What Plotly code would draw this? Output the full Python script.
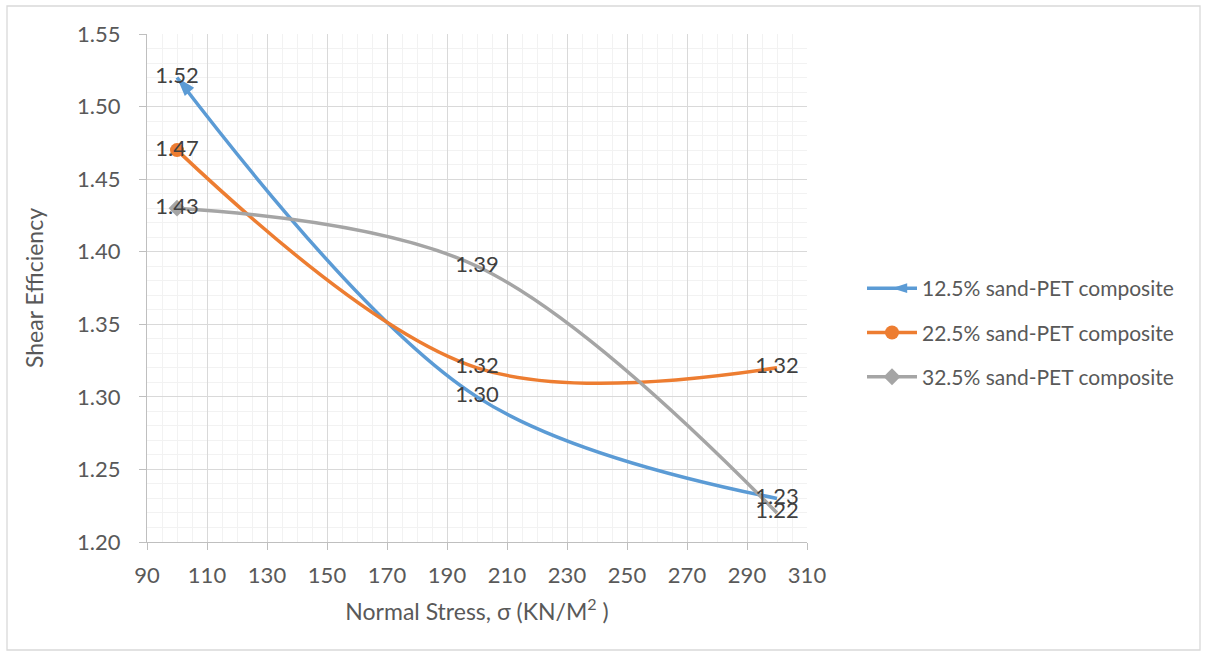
import plotly.graph_objects as go

# Normal stress (kN/m^2) and shear efficiency for each composite mix
stress = [100, 200, 300]
eff_125 = [1.52, 1.30, 1.23]
eff_225 = [1.47, 1.32, 1.32]
eff_325 = [1.43, 1.39, 1.22]
series_names = ["12.5% sand-PET composite", "22.5% sand-PET composite", "32.5% sand-PET composite"]

colors = ["#5B9BD5", "#ED7D31", "#A5A5A5"]
FONT = "Lato, Carlito, 'Open Sans', sans-serif"
TXT = "#595959"

fig = go.Figure()

series = [eff_125, eff_225, eff_325]
# marker on the first point of each curve (arrow head / circle / diamond)
first_marker = [dict(symbol="arrow", size=20, angle=-41),
                dict(symbol="circle", size=14, angle=0),
                dict(symbol="diamond", size=13, angle=0)]
legend_marker = [dict(symbol="arrow", size=16, angle=-90),
                 dict(symbol="circle", size=14, angle=0),
                 dict(symbol="diamond", size=13, angle=0)]

for i, (vals, name, col, fm, lm) in enumerate(zip(series, series_names, colors, first_marker, legend_marker)):
    fig.add_trace(go.Scatter(
        x=stress, y=vals, mode="lines", showlegend=False,
        line=dict(color=col, width=3.5, shape="spline", smoothing=1.0),
        hoverinfo="skip"))
    fig.add_trace(go.Scatter(
        x=stress[:1], y=vals[:1], mode="markers", showlegend=False,
        marker=dict(color=col, line=dict(width=0), **fm)))
    fig.add_trace(go.Scatter(
        x=[None], y=[None], mode="lines+markers", name=name, legendgroup=f"g{i}",
        line=dict(color=col, width=3.5),
        marker=dict(color=col, line=dict(width=0), **lm)))

# value labels centred on each point
for vals in series:
    fig.add_trace(go.Scatter(
        x=stress, y=vals, mode="text", showlegend=False,
        text=[f"{v:.2f}" for v in vals], textposition="middle center",
        textfont=dict(family=FONT, size=22, color="#404040"), hoverinfo="skip"))

axis_common = dict(
    showline=True, linecolor="#BFBFBF", linewidth=1.3,
    ticks="outside", tickcolor="#BFBFBF", ticklen=7, tickwidth=1.3,
    gridcolor="#D9D9D9", gridwidth=1.3, zeroline=False,
    tickfont=dict(family=FONT, size=22, color=TXT),
)

fig.update_xaxes(
    range=[90, 310], tick0=90, dtick=20, **axis_common, ticklabelstandoff=6,
    minor=dict(dtick=5, showgrid=True, gridcolor="#F2F2F2", gridwidth=1.3, ticks=""),
    title=dict(text="Normal Stress, σ (KN/M<sup>2</sup> )", font=dict(family=FONT, size=23, color=TXT), standoff=17),
)
fig.update_yaxes(
    range=[1.20, 1.55], tick0=1.20, dtick=0.05, tickformat=".2f", **axis_common, ticklabelstandoff=14,
    minor=dict(dtick=0.01, showgrid=True, gridcolor="#F2F2F2", gridwidth=1.3, ticks=""),
    title=dict(text="Shear Efficiency", font=dict(family=FONT, size=23, color=TXT), standoff=26),
)

L, R, T, B = 147, 400, 34, 114
W, H = 1207, 656
pw, ph = W - L - R, H - T - B

def px(x):
    return (x - L) / pw

def py(y):
    return (H - B - y) / ph

fig.update_layout(
    width=W, height=H,
    margin=dict(l=L, r=R, t=T, b=B),
    paper_bgcolor="white", plot_bgcolor="white",
    font=dict(family=FONT, color=TXT),
    legend=dict(x=px(862), y=py(268), xanchor="left", yanchor="top",
                font=dict(family=FONT, size=21, color=TXT),
                itemwidth=50, tracegroupgap=14, bgcolor="rgba(0,0,0,0)"),
    shapes=[dict(type="rect", xref="paper", yref="paper",
                 x0=px(7), x1=px(1200), y0=py(650), y1=py(6),
                 line=dict(color="#D9D9D9", width=1.3), layer="below")],
)

fig.write_html("out.html")
